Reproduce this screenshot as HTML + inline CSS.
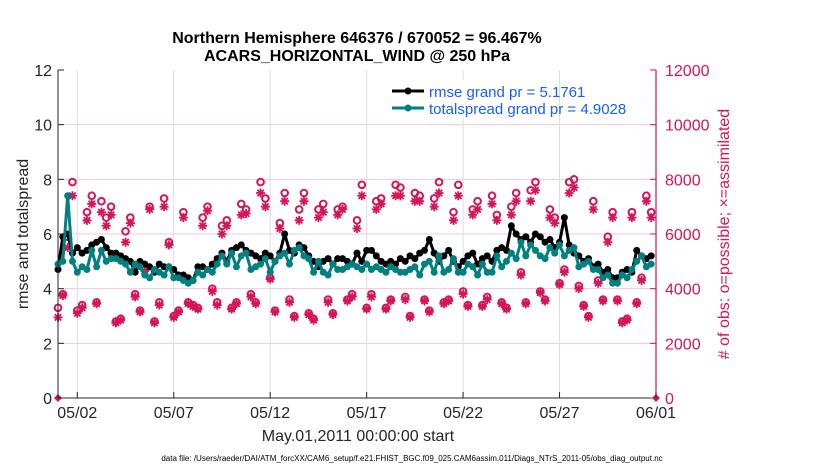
<!DOCTYPE html>
<html><head><meta charset="utf-8"><style>
html,body{margin:0;padding:0;background:#fff;}
svg{display:block;font-family:"Liberation Sans",sans-serif;}
</style></head><body>
<svg id="chart" width="830" height="470" viewBox="0 0 830 470"></svg>
<script>
const rmse=[4.7,5.9,6.0,5.3, 5.5,5.3,5.4,5.6, 5.7,5.8,5.5,5.3, 5.3,5.2,5.1,5.0, 4.6,5.0,4.9,4.8, 4.6,4.9,4.8,4.8, 4.7,4.5,4.5,4.4, 4.3,4.8,4.8,4.7, 4.9,5.1,5.3,5.0, 5.4,5.5,5.6,5.4, 5.3,5.2,5.1,5.3, 5.2,5.0,5.3,6.0, 5.4,5.3,5.6,5.5, 5.2,5.0,4.8,5.0, 5.1,4.9,5.1,5.1, 5.0,4.9,5.3,5.0, 5.4,5.4,5.2,5.0, 4.9,5.0,4.9,5.1, 5.0,5.2,5.1,5.3, 5.4,5.8,5.3,5.0, 5.2,5.4,5.0,4.8, 5.0,5.2,5.3,4.9, 5.1,5.2,5.0,5.4, 5.5,5.4,6.3,6.0, 5.8,5.9,5.7,6.0, 5.9,5.7,5.8,5.5, 5.7,6.6,5.6,5.3, 5.2,5.0,5.1,4.8, 4.9,4.6,4.7,4.4, 4.4,4.6,4.7,4.6, 5.4,5.2,5.1,5.2];
const spread=[4.9,5.0,7.4,5.0, 4.6,4.8,4.7,5.4, 4.8,5.4,5.0,5.1, 5.1,5.0,4.9,4.6, 4.9,4.8,4.5,4.4, 4.7,4.6,4.5,4.8, 4.4,4.4,4.3,4.2, 4.3,4.6,4.5,4.7, 4.6,4.9,5.2,4.9, 5.3,4.8,5.2,5.3, 4.7,4.8,4.9,5.1, 4.6,5.0,5.2,5.3, 4.9,5.4,5.5,5.2, 5.1,4.6,5.0,4.6, 4.5,4.9,4.7,4.7, 4.8,4.9,4.8,4.7, 4.9,4.7,4.8,4.7, 4.6,4.8,4.7,4.6, 4.6,4.7,4.8,4.5, 4.9,5.0,4.6,5.2, 4.6,4.7,5.1,4.6, 4.6,4.9,4.8,4.5, 4.9,4.6,4.6,5.2, 4.8,5.0,5.3,5.1, 5.7,5.2,5.6,5.4, 5.2,5.1,5.5,5.3, 5.6,5.2,5.4,5.5, 4.8,4.9,5.0,4.7, 4.7,4.4,4.5,4.2, 4.2,4.5,4.4,4.7, 5.0,5.2,4.8,4.9];
const possible=[3300,3800,5900,7900, 3200,3400,6800,7400, 3500,7200,6600,7000, 2800,2900,6100,6600, 3800,3200,4700,7000, 2800,3500,7300,5700, 3000,3200,6800,3500, 3400,3300,6600,7000, 4000,3500,6300,6500, 3300,3500,7100,6900, 3800,3500,7900,7300, 4400,3200,6400,7500, 3600,3000,6900,7500, 3100,2900,6900,7100, 3600,3100,6900,7000, 3600,3800,6500,7800, 3300,3800,7200,7300, 3300,3600,7800,7700, 3700,3000,7500,7400, 3600,3200,7300,7900, 3500,3600,6800,7800, 3900,3400,6900,7200, 3400,3700,7400,6700, 3500,3300,7000,7500, 4600,3500,7600,7900, 3900,3600,6900,6600, 4200,4700,7900,8000, 4100,3400,3000,7200, 4300,3600,5900,6800, 3600,2800,2900,6800, 3500,4400,7400,6800];
const assimilated=[2950,3750,5500,7400, 3100,3300,6500,7100, 3450,6800,6300,6700, 2750,2850,5700,6400, 3700,3150,4650,6900, 2750,3400,7000,5600, 2950,3150,6600,3450, 3350,3250,6300,6850, 3900,3400,6000,6300, 3250,3450,6700,6750, 3700,3450,7500,7000, 4350,3150,6200,7200, 3500,2950,6500,7200, 3050,2850,6600,6800, 3500,3050,6700,6900, 3550,3700,6200,7400, 3250,3700,6900,7100, 3250,3550,7400,7400, 3600,2950,7200,7200, 3550,3150,7000,7500, 3450,3550,6500,7400, 3800,3350,6700,6900, 3350,3600,7100,6500, 3450,3250,6700,7200, 4500,3450,7200,7600, 3850,3550,6600,6400, 4150,4600,7500,7700, 4000,3350,2950,6900, 4200,3550,5700,6600, 3550,2750,2850,6600, 3450,4300,7200,6600];
const leftTicks=[0,2,4,6,8,10,12];
const rightTicks=[0,2000,4000,6000,8000,10000,12000];
const xTickDays=[1,6,11,16,21,26,31];
const xTickLabels=["05/02","05/07","05/12","05/17","05/22","05/27","06/01"];
const zeroDays=[0,31];

const X0=58,X1=656,Y0=398,Y1=70;
const xs=d=>X0+(d/31)*(X1-X0);
const yL=v=>Y0-(v/12)*(Y0-Y1);
const yR=v=>Y0-(v/12000)*(Y0-Y1);
const NS="http://www.w3.org/2000/svg";
const svg=document.getElementById('chart');
function mk(tag,attrs,parent){const e=document.createElementNS(NS,tag);for(const k in attrs)e.setAttribute(k,attrs[k]);(parent||svg).appendChild(e);return e;}
const PINK="#d6145a",TEAL="#008080";

leftTicks.forEach(v=>{if(v>0&&v<12){const l=mk('line',{x1:X0,x2:X1,y1:yL(v),y2:yL(v),stroke:'#f2c8d6','stroke-width':1});

}});
xTickDays.forEach(d=>{const l=mk('line',{x1:xs(d),x2:xs(d),y1:Y1,y2:Y0,stroke:'#dddddd','stroke-width':1});

});

function drawObs(){
 const g=mk('g',{});
 
 
 assimilated.forEach((v,i)=>{const x=xs(i/4),y=yR(v),r=4.5,q=3.2;
  const s=mk('path',{d:`M${x-r},${y}H${x+r}M${x},${y-r}V${y+r}M${x-q},${y-q}L${x+q},${y+q}M${x-q},${y+q}L${x+q},${y-q}`,stroke:PINK,'stroke-width':1.8,fill:'none'},g);
  
  });
 possible.forEach((v,i)=>{const c=mk('circle',{cx:xs(i/4),cy:yR(v),r:3.3,fill:'none',stroke:PINK,'stroke-width':2},g);
  
  });
 zeroDays.forEach(d=>{const c=mk('path',{d:`M${xs(d)-4},${Y0}L${xs(d)},${Y0-4}L${xs(d)+4},${Y0}L${xs(d)},${Y0+4}Z`,fill:PINK},g);
  
  });
}
drawObs();

function drawLine(arr,color,name){
 const g=mk('g',{});
 
 
 mk('polyline',{points:arr.map((v,i)=>xs(i/4)+','+yL(v)).join(' '),fill:'none',stroke:color,'stroke-width':3,'stroke-linejoin':'round'},g);
 arr.forEach((v,i)=>{const c=mk('circle',{cx:xs(i/4),cy:yL(v),r:3.5,fill:color},g);
  
  });
}
drawLine(rmse,'#000000','rmse-line');
drawLine(spread,TEAL,'totalspread-line');

const la=mk('line',{x1:X0,x2:X0,y1:Y1,y2:Y0,stroke:'#262626','stroke-width':1});

const ba=mk('line',{x1:X0,x2:X1,y1:Y0,y2:Y0,stroke:'#262626','stroke-width':1});

const ra=mk('line',{x1:X1,x2:X1,y1:Y1,y2:Y0,stroke:PINK,'stroke-width':1.2});


leftTicks.forEach(v=>{mk('line',{x1:X0,x2:X0+6,y1:yL(v),y2:yL(v),stroke:'#262626'});
 const t=mk('text',{x:X0-6,y:yL(v)+6,'text-anchor':'end','font-size':16,fill:'#262626'});t.textContent=v;
 });
rightTicks.forEach(v=>{mk('line',{x1:X1-6,x2:X1,y1:yR(v),y2:yR(v),stroke:PINK});
 const t=mk('text',{x:X1+9,y:yR(v)+6,'text-anchor':'start','font-size':16,fill:PINK});t.textContent=v;
 });
xTickDays.forEach((d,i)=>{mk('line',{x1:xs(d),x2:xs(d),y1:Y0,y2:Y0-6,stroke:'#262626'});
 const t=mk('text',{x:xs(d),y:418,'text-anchor':'middle','font-size':16,fill:'#262626'});t.textContent=xTickLabels[i];
 });
</script>
<svg width="830" height="470" style="position:absolute;left:0;top:0;font-family:'Liberation Sans',sans-serif">
<text x="357" y="43" text-anchor="middle" font-size="16" font-weight="bold" fill="#000">Northern Hemisphere 646376 / 670052 = 96.467%</text>
<text x="357" y="61" text-anchor="middle" font-size="16" font-weight="bold" fill="#000">ACARS_HORIZONTAL_WIND @ 250 hPa</text>
<text x="0" y="0" transform="translate(28,234) rotate(-90)" text-anchor="middle" font-size="16" fill="#262626">rmse and totalspread</text>
<text x="0" y="0" transform="translate(729,234) rotate(-90)" text-anchor="middle" font-size="16" fill="#d6145a"># of obs: o=possible; ×=assimilated</text>
<text x="358" y="441" text-anchor="middle" font-size="16" fill="#262626">May.01,2011 00:00:00 start</text>
<text x="412" y="461" text-anchor="middle" font-size="8" fill="#000">data file: /Users/raeder/DAI/ATM_forcXX/CAM6_setup/f.e21.FHIST_BGC.f09_025.CAM6assim.011/Diags_NTrS_2011-05/obs_diag_output.nc</text>
<g>
<rect x="388" y="80" width="170" height="38" fill="#fff"/>
<g>
<line x1="392" x2="424" y1="91" y2="91" stroke="#000" stroke-width="3"/><circle cx="408" cy="91" r="3.5" fill="#000"/>
<text x="429" y="97" font-size="15" fill="#1a5cff">rmse grand pr = 5.1761</text></g>
<g>
<line x1="392" x2="424" y1="108" y2="108" stroke="#008080" stroke-width="3"/><circle cx="408" cy="108" r="3.5" fill="#008080"/>
<text x="429" y="114" font-size="15" fill="#1a5cff">totalspread grand pr = 4.9028</text></g>
</g>
</svg>
</body></html>
